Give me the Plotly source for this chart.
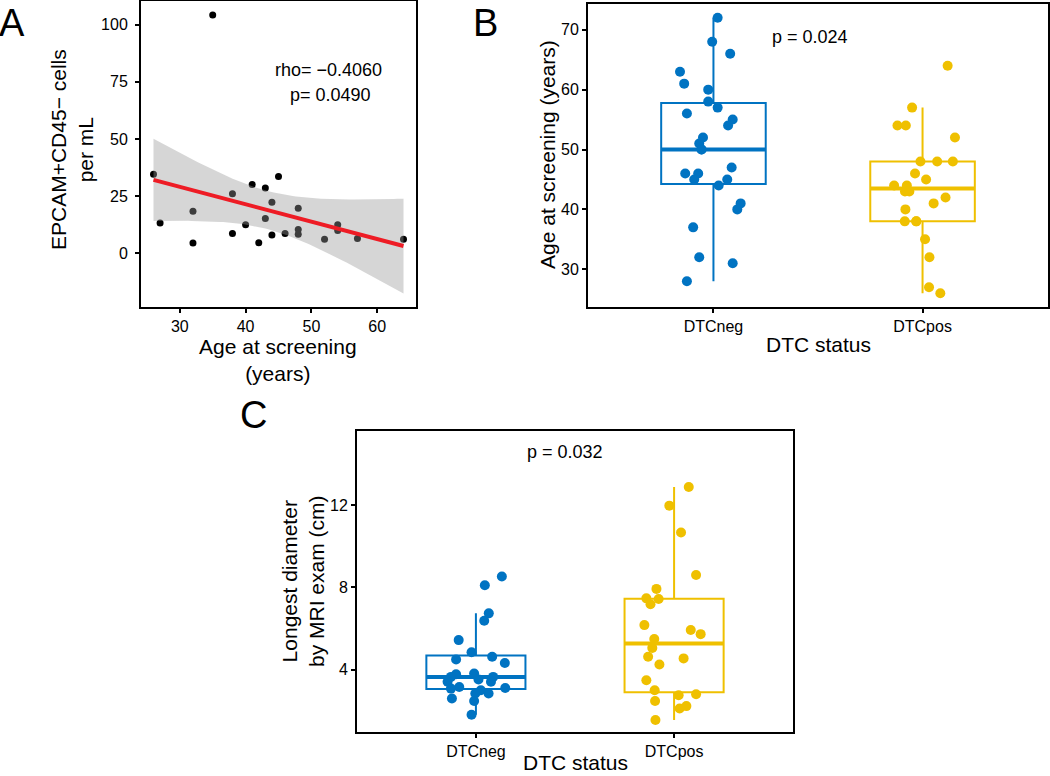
import numpy as np
import plotly.graph_objects as go

# ---- panel A: CTC count vs age ----
age_a = [35, 26, 27, 32, 32, 38, 38, 40, 41, 42, 43, 43, 44, 44, 45, 46, 48, 48, 48, 52, 54, 54, 57, 64]
cells_a = [104.2, 34.6, 13.2, 18.4, 4.5, 26.0, 8.6, 12.5, 30.1, 4.6, 28.5, 15.2, 22.3, 8.0, 33.6, 8.6,
           19.7, 10.4, 8.3, 6.1, 12.5, 10.0, 6.5, 6.1]
rho_label = "rho= \u22120.4060"
p_label_a = "p= 0.0490"

# ---- panels B and C: DTC status groups ----
groups = ["DTCneg", "DTCpos"]

# age at screening (B)
age_neg = [72, 68, 66, 63, 61, 60, 58, 57, 56, 55, 54, 52, 51, 50, 50, 46, 46, 47, 45, 45, 44, 41, 40, 37, 32, 31, 28]
age_neg_jit = [0.02, -0.006, 0.08, -0.16, -0.14, -0.025, -0.025, 0.02, -0.127, 0.092, 0.07, -0.05, -0.068, -0.057,
               -0.057, -0.135, -0.073, 0.087, -0.092, 0.066, 0.025, 0.13, 0.114, -0.097, -0.068, 0.092, -0.127]
age_pos = [64, 57, 54, 54, 52, 48, 48, 48, 46, 45, 44, 44, 43, 43, 42, 41, 40, 38, 38, 38, 35, 32, 27, 26]
age_pos_jit = [0.12, -0.05, -0.12, -0.08, 0.155, -0.01, 0.07, 0.145, -0.036, 0.017, -0.136, -0.075, -0.084,
               -0.063, 0.11, 0.053, -0.082, -0.085, -0.03, -0.03, 0.012, 0.033, 0.031, 0.085]
p_label_b = "p = 0.024"

# longest diameter by MRI (C)
diam_neg = [8.52, 8.10, 6.73, 6.37, 5.43, 4.84, 4.62, 4.49, 4.32, 3.80, 3.77, 3.64, 3.51, 3.64, 3.40, 3.40,
            3.15, 3.07, 3.10, 2.99, 2.83, 2.83, 2.59, 2.47, 1.80]
diam_neg_jit = [0.131, 0.045, 0.065, 0.042, -0.087, -0.022, 0.082, -0.10, 0.146, -0.009, -0.10, -0.126, 0.013,
                0.087, -0.143, 0.076, -0.084, -0.126, 0.148, 0.025, -0.003, 0.064, -0.121, -0.009, -0.022]
diam_pos = [12.88, 11.97, 10.66, 8.60, 7.92, 7.46, 7.43, 7.17, 6.16, 5.92, 5.72, 5.48, 5.05, 4.62, 4.54, 4.24,
            3.48, 2.99, 2.75, 2.80, 2.47, 2.22, 2.10, 1.54]
diam_pos_jit = [0.074, -0.024, 0.035, 0.111, -0.089, -0.14, -0.078, -0.119, -0.15, 0.084, 0.134, -0.10, -0.11,
                -0.131, 0.048, -0.074, -0.14, -0.098, 0.023, 0.111, -0.096, 0.062, 0.028, -0.094]
p_label_c = "p = 0.032"

blue = "#0073C2"
yellow = "#EFC000"
colors = [blue, yellow]
FONT = "Liberation Sans"
W, H = 1050, 776

fig = go.Figure()

# A: points first, then the grey ribbon over them (like geom_smooth)
fig.add_trace(go.Scatter(x=age_a, y=cells_a, mode="markers",
                         marker=dict(color="black", size=7), xaxis="x", yaxis="y"))

x = np.array(age_a, float)
y = np.array(cells_a, float)
n = len(x)
slope, icpt = np.polyfit(x, y, 1)
grid = np.linspace(x.min(), x.max(), 80)
fit = icpt + slope * grid
resid = y - (icpt + slope * x)
s = np.sqrt((resid ** 2).sum() / (n - 2))
se = s * np.sqrt(1 / n + (grid - x.mean()) ** 2 / ((x - x.mean()) ** 2).sum())
t975 = 2.074  # qt(0.975, df=22)
fig.add_trace(go.Scatter(x=np.concatenate([grid, grid[::-1]]),
                         y=np.concatenate([fit + t975 * se, (fit - t975 * se)[::-1]]),
                         fill="toself", fillcolor="rgba(153,153,153,0.4)", line=dict(width=0),
                         mode="lines", xaxis="x", yaxis="y"))
fig.add_trace(go.Scatter(x=grid, y=fit, mode="lines", line=dict(color="#EE1C25", width=4),
                         xaxis="x", yaxis="y"))


def add_boxes(data, jits, xa, ya):
    for i, (vals, jit) in enumerate(zip(data, jits)):
        pos = i + 1
        col = colors[i]
        fig.add_trace(go.Box(x=[pos] * len(vals), y=vals, width=0.5, whiskerwidth=0,
                             quartilemethod="linear", boxpoints="outliers",
                             marker=dict(opacity=0, size=1), line=dict(color=col, width=2),
                             fillcolor="white", xaxis=xa, yaxis=ya))
        med = float(np.median(vals))
        fig.add_trace(go.Scatter(x=[pos - 0.25, pos + 0.25], y=[med, med], mode="lines",
                                 line=dict(color=col, width=4), xaxis=xa, yaxis=ya))
        fig.add_trace(go.Scatter(x=np.array(jit) + pos, y=vals, mode="markers",
                                 marker=dict(color=col, size=10), xaxis=xa, yaxis=ya))


add_boxes([age_neg, age_pos], [age_neg_jit, age_pos_jit], "x2", "y2")
add_boxes([diam_neg, diam_pos], [diam_neg_jit, diam_pos_jit], "x3", "y3")

tickfont = dict(family=FONT, size=16, color="black")
ax = dict(showline=True, mirror=True, linecolor="black", linewidth=2, showgrid=False, zeroline=False,
          ticks="outside", ticklen=4, tickwidth=1.5, tickcolor="black", tickfont=tickfont)


def px(v):
    return v / W


def py(v):
    return 1 - v / H


fig.update_layout(
    width=W, height=H, margin=dict(l=0, r=0, t=0, b=0),
    plot_bgcolor="white", paper_bgcolor="white", showlegend=False,
    xaxis=dict(ax, domain=[px(141), px(416)], range=[24.1, 65.9], tickvals=[30, 40, 50, 60], anchor="y"),
    yaxis=dict(ax, domain=[py(307), py(1)], range=[-23.5, 110.3], tickvals=[0, 25, 50, 75, 100], anchor="x",
               ticklabelstandoff=4),
    xaxis2=dict(ax, domain=[px(588), px(1048)], range=[0.4, 2.6], tickvals=[1, 2], ticktext=groups, anchor="y2"),
    yaxis2=dict(ax, domain=[py(307), py(4)], range=[23.7, 74.3], tickvals=[30, 40, 50, 60, 70], anchor="x2"),
    xaxis3=dict(ax, domain=[px(357), px(793)], range=[0.4, 2.6], tickvals=[1, 2], ticktext=groups, anchor="y3"),
    yaxis3=dict(ax, domain=[py(732), py(431)], range=[0.96, 15.6], tickvals=[4, 8, 12], anchor="x3"),
)

tf = dict(family=FONT, size=21, color="black")
lf = dict(family=FONT, size=38, color="black")
notes = [
    # panel letters
    dict(text="A", x=px(12), y=py(23), font=lf),
    dict(text="B", x=px(485), y=py(23), font=lf),
    dict(text="C", x=px(253), y=py(415), font=lf),
    # axis titles
    dict(text="EPCAM+CD45\u2212 cells<br>per mL", x=px(72), y=py(150), textangle=-90, font=tf),
    dict(text="Age at screening<br>(years)", x=px(278), y=py(360), font=tf),
    dict(text="Age at screening (years)", x=px(548), y=py(155), textangle=-90, font=tf),
    dict(text="DTC status", x=px(818), y=py(344), font=tf),
    dict(text="Longest diameter<br>by MRI exam (cm)", x=px(303), y=py(581), textangle=-90, font=tf),
    dict(text="DTC status", x=px(575), y=py(762), font=tf),
]
for a in notes:
    fig.add_annotation(xref="paper", yref="paper", showarrow=False, xanchor="center", yanchor="middle", **a)

sf = dict(family=FONT, size=18, color="black")
fig.add_annotation(text=rho_label, x=52.6, y=80, xref="x", yref="y", showarrow=False, font=sf)
fig.add_annotation(text=p_label_a, x=52.9, y=69, xref="x", yref="y", showarrow=False, font=sf)
fig.add_annotation(text=p_label_b, x=1.46, y=68.8, xref="x2", yref="y2", showarrow=False, font=sf)
fig.add_annotation(text=p_label_c, x=1.45, y=14.6, xref="x3", yref="y3", showarrow=False, font=sf)

fig.write_html("out.html", config={"displayModeBar": False},
               post_script="document.body.style.margin='0px';document.body.style.overflow='hidden';")
